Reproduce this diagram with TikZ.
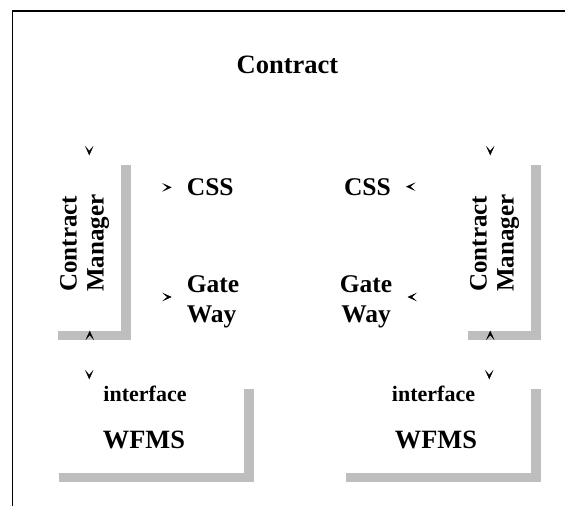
\documentclass[tikz,border=0pt]{standalone}
\usepackage{fontspec}
\setmainfont{Liberation Serif}
\usepackage{graphicx}
\usetikzlibrary{arrows.meta,shadows,calc}
\definecolor{bargray}{RGB}{190,190,190}
\begin{document}
\begin{tikzpicture}[x=1pt,y=-1pt,
  panel/.style={fill=white, draw=none, inner sep=0pt,
    drop shadow={shadow xshift=9.5pt, shadow yshift=-9.5pt, fill=bargray, opacity=1}},
  sidetext/.style={inner xsep=15pt, inner ysep=2pt,
    font=\fontsize{25.5pt}{29.5pt}\selectfont\bfseries},
  ghost/.style={-{Stealth[length=9.5pt,width=8.5pt,inset=5pt]},
    dash pattern=on 0pt off 3000pt, line cap=butt},
]
\useasboundingbox (0,0) rectangle (565,506);

% outer frame
\draw[line width=1.8pt] (12.5,506) -- (12.5,11.3) -- (565,11.3);

% title
\node[anchor=base, inner sep=0pt, font=\fontsize{26.5pt}{30pt}\selectfont\bfseries]
  (title) at (287.5,73) {Contract};

% contract managers
\node[panel, minimum width=72.5pt, minimum height=175pt,
      font=\fontsize{25pt}{27pt}\selectfont\bfseries] (cmL) at (84.75,243)
  {\rotatebox{90}{\begin{tabular}{@{}l@{}}Contract\\Manager\end{tabular}}};
\node[panel, minimum width=72.5pt, minimum height=175pt,
      font=\fontsize{25pt}{27pt}\selectfont\bfseries] (cmR) at (494.75,243)
  {\rotatebox{90}{\begin{tabular}{@{}l@{}}Contract\\Manager\end{tabular}}};

% workflow management systems
\node[panel, minimum width=194.5pt, minimum height=93pt] (wfL) at (146.75,426) {};
\node[panel, minimum width=194.5pt, minimum height=93pt] (wfR) at (433.75,426) {};
\node[anchor=base, inner sep=0pt, font=\fontsize{22pt}{24pt}\selectfont\bfseries]
  (ifL) at (145,401) {interface};
\node[anchor=base, inner sep=0pt, font=\fontsize{26.4pt}{30pt}\selectfont\bfseries]
  (wmL) at (144,448) {WFMS};
\node[anchor=base, inner sep=0pt, font=\fontsize{22pt}{24pt}\selectfont\bfseries]
  (ifR) at (433.5,401) {interface};
\node[anchor=base, inner sep=0pt, font=\fontsize{26.4pt}{30pt}\selectfont\bfseries]
  (wmR) at (436,448) {WFMS};

% services
\node[sidetext, anchor=base west] (cssL) at (171.7,195.7) {CSS};
\node[sidetext, align=left, anchor=west] (gwL) at (171.7,302) {Gate\\Way};
\node[sidetext, anchor=base east] (cssR) at (406,195) {CSS};
\node[sidetext, align=center, anchor=east] (gwR) at (407.5,302) {Gate\\Way};

% connectors (only their heads show)
\draw[ghost] (cmL.east |- cssL.west) -- (cssL.west);
\draw[ghost] ($(cmL.east |- gwL.west)+(0,-5)$) -- ($(gwL.west)+(0,-5)$);
\draw[ghost] (cmR.west |- cssR.east) -- (cssR.east);
\draw[ghost] ($(cmR.west |- gwR.east)+(0,-5)$) -- ($(gwR.east)+(0,-5)$);

\draw[ghost] ($(title.south -| cmL.north)+(4.5,0)$) -- ($(cmL.north)+(4.5,0)$);
\draw[ghost] ($(cmL.south |- wfL.north)+(5,0)$) -- ($(cmL.south)+(5,0)$);
\draw[ghost] ($(cmL.south)+(4.5,0)$) -- ($(cmL.south |- wfL.north)+(4.5,0)$);

\draw[ghost] ($(title.south -| cmR.north)+(-4.5,0)$) -- ($(cmR.north)+(-4.5,0)$);
\draw[ghost] ($(cmR.south |- wfR.north)+(-4.5,0)$) -- ($(cmR.south)+(-4.5,0)$);
\draw[ghost] ($(cmR.south)+(-5.5,0)$) -- ($(cmR.south |- wfR.north)+(-5.5,0)$);
\end{tikzpicture}
\end{document}
